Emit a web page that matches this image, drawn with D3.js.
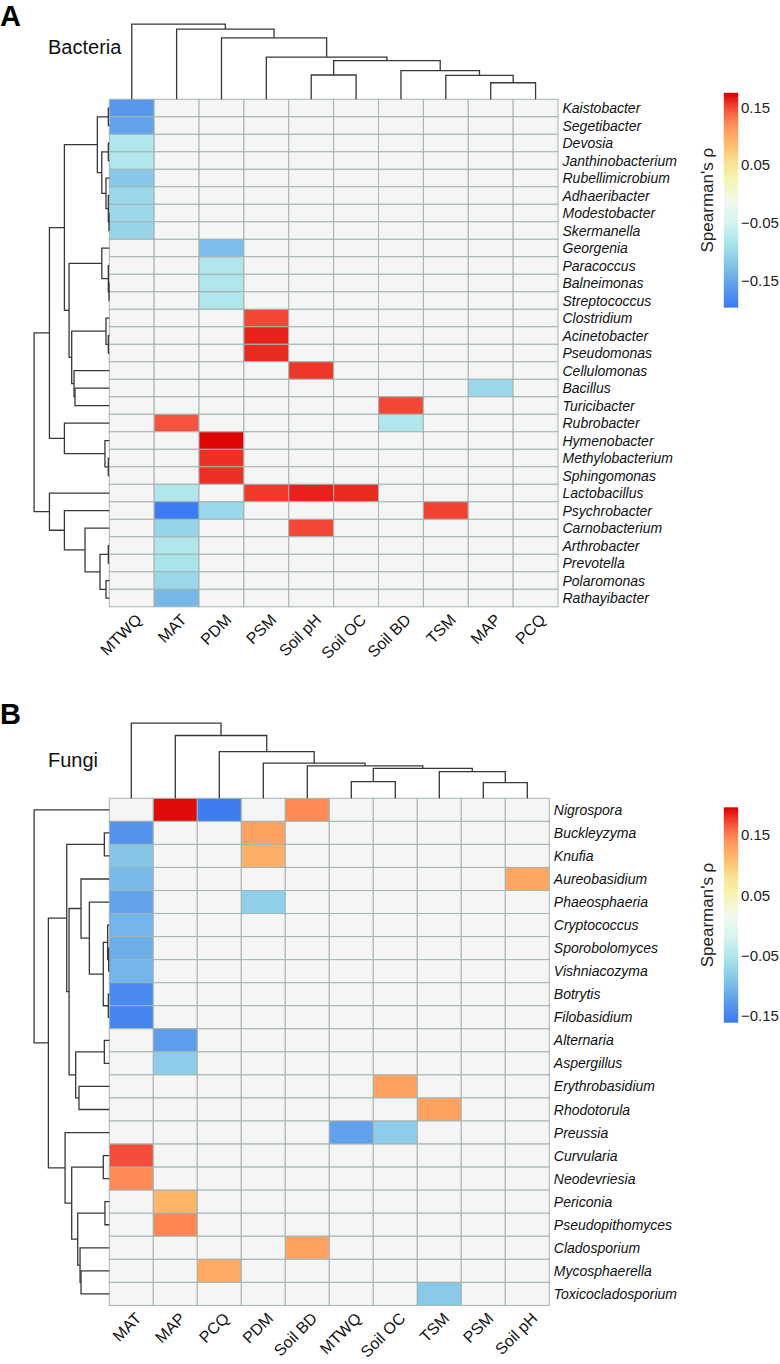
<!DOCTYPE html>
<html><head><meta charset="utf-8">
<script src="https://cdn.jsdelivr.net/npm/d3@7"></script>
<style>
body{margin:0;background:#fff}
svg{display:block}
text{font-family:"Liberation Sans",Arial,Helvetica,sans-serif}
</style>
</head><body>
<svg id="chart" width="780" height="1364"></svg>
<script>
// ---------------- DATA ----------------
const legendTicks = [0.15, 0.05, -0.05, -0.15];

// Panel A – Bacteria
const bactCols = ["MTWQ","MAT","PDM","PSM","Soil pH","Soil OC","Soil BD","TSM","MAP","PCQ"];
const bactRows = ["Kaistobacter","Segetibacter","Devosia","Janthinobacterium","Rubellimicrobium",
  "Adhaeribacter","Modestobacter","Skermanella","Georgenia","Paracoccus","Balneimonas",
  "Streptococcus","Clostridium","Acinetobacter","Pseudomonas","Cellulomonas","Bacillus",
  "Turicibacter","Rubrobacter","Hymenobacter","Methylobacterium","Sphingomonas","Lactobacillus",
  "Psychrobacter","Carnobacterium","Arthrobacter","Prevotella","Polaromonas","Rathayibacter"];
// significant correlations [row, column, Spearman's rho]; other cells are not significant
const bactValues = [
  ["Kaistobacter","MTWQ",-0.165],["Segetibacter","MTWQ",-0.155],["Devosia","MTWQ",-0.08],
  ["Janthinobacterium","MTWQ",-0.08],["Rubellimicrobium","MTWQ",-0.12],["Adhaeribacter","MTWQ",-0.10],
  ["Modestobacter","MTWQ",-0.10],["Skermanella","MTWQ",-0.105],
  ["Georgenia","PDM",-0.13],["Paracoccus","PDM",-0.08],["Balneimonas","PDM",-0.08],["Streptococcus","PDM",-0.08],
  ["Clostridium","PSM",0.15],["Acinetobacter","PSM",0.163],["Pseudomonas","PSM",0.16],
  ["Cellulomonas","Soil pH",0.156],["Bacillus","MAP",-0.10],["Turicibacter","Soil BD",0.15],
  ["Rubrobacter","MAT",0.145],["Rubrobacter","Soil BD",-0.08],
  ["Hymenobacter","PDM",0.173],["Methylobacterium","PDM",0.158],["Sphingomonas","PDM",0.158],
  ["Lactobacillus","MAT",-0.08],["Lactobacillus","PSM",0.155],["Lactobacillus","Soil pH",0.163],["Lactobacillus","Soil OC",0.16],
  ["Psychrobacter","MAT",-0.195],["Psychrobacter","PDM",-0.10],["Psychrobacter","TSM",0.152],
  ["Carnobacterium","MAT",-0.105],["Carnobacterium","Soil pH",0.15],
  ["Arthrobacter","MAT",-0.08],["Prevotella","MAT",-0.085],["Polaromonas","MAT",-0.10],["Rathayibacter","MAT",-0.135]
];
// hclust-style merges: [a, b, height]; negative = leaf (1-based, display order), positive = earlier merge
const bactColMerge = [[-9,-10,0.220],[-8,1,0.319],[-7,2,0.380],[-5,-6,0.323],[4,3,0.513],
  [-4,5,0.562],[-3,6,0.818],[-2,7,0.934],[-1,8,1.0]];
const bactRowMerge = [[-1,-2,0.013],[-3,-4,0.013],[-7,-8,0.004],[-6,3,0.013],[-5,4,0.044],
  [2,5,0.10],[1,6,0.159],[-11,-12,0.004],[-10,8,0.013],[-9,9,0.10],[-14,-15,0.013],[-13,11,0.044],
  [-17,-18,0.456],[-16,13,0.469],[12,14,0.50],[10,15,0.535],[7,16,0.597],[-21,-22,0.013],
  [-20,18,0.058],[-19,19,0.597],[17,20,0.796],[-26,-27,0.013],[-28,-29,0.044],[22,23,0.124],
  [-25,24,0.323],[-24,25,0.597],[-23,26,0.796],[21,27,1.0]];
const bactRange = [-0.197, 0.175];

// Panel B – Fungi
const fungCols = ["MAT","MAP","PCQ","PDM","Soil BD","MTWQ","Soil OC","TSM","PSM","Soil pH"];
const fungRows = ["Nigrospora","Buckleyzyma","Knufia","Aureobasidium","Phaeosphaeria","Cryptococcus",
  "Sporobolomyces","Vishniacozyma","Botrytis","Filobasidium","Alternaria","Aspergillus",
  "Erythrobasidium","Rhodotorula","Preussia","Curvularia","Neodevriesia","Periconia",
  "Pseudopithomyces","Cladosporium","Mycosphaerella","Toxicocladosporium"];
const fungValues = [
  ["Nigrospora","MAP",0.192],["Nigrospora","PCQ",-0.158],["Nigrospora","Soil BD",0.145],
  ["Buckleyzyma","MAT",-0.135],["Buckleyzyma","PDM",0.13],
  ["Knufia","MAT",-0.09],["Knufia","PDM",0.12],
  ["Aureobasidium","MAT",-0.10],["Aureobasidium","Soil pH",0.127],
  ["Phaeosphaeria","MAT",-0.12],["Phaeosphaeria","PDM",-0.078],
  ["Cryptococcus","MAT",-0.105],["Sporobolomyces","MAT",-0.11],["Vishniacozyma","MAT",-0.105],
  ["Botrytis","MAT",-0.145],["Filobasidium","MAT",-0.15],
  ["Alternaria","MAP",-0.125],["Aspergillus","MAP",-0.08],
  ["Erythrobasidium","Soil OC",0.13],["Rhodotorula","TSM",0.13],
  ["Preussia","MTWQ",-0.122],["Preussia","Soil OC",-0.08],
  ["Curvularia","MAT",0.17],["Neodevriesia","MAT",0.145],
  ["Periconia","MAP",0.115],["Pseudopithomyces","MAP",0.148],
  ["Cladosporium","Soil BD",0.13],["Mycosphaerella","PCQ",0.125],["Toxicocladosporium","TSM",-0.085]
];
const fungColMerge = [[-9,-10,0.208],[-8,1,0.355],[-6,-7,0.221],[3,2,0.397],[-5,4,0.431],
  [-4,5,0.467],[-3,6,0.621],[-2,7,0.835],[-1,8,1.0]];
const fungRowMerge = [[-2,-3,0.066],[-7,-8,0.009],[-6,2,0.022],[-9,-10,0.013],[3,4,0.080],
  [-5,5,0.265],[-4,6,0.376],[-11,-12,0.066],[-13,-14,0.403],[8,9,0.447],[7,10,0.535],
  [1,11,0.566],[-16,-17,0.080],[-18,-19,0.058],[-21,-22,0.376],[-20,15,0.389],[14,16,0.420],
  [13,17,0.50],[-15,18,0.588],[12,19,0.810],[-1,20,1.0]];
const fungRange = [-0.161, 0.196];

// ---------------- STYLE ----------------
const paletteStops = [0,0.10,0.20,0.30,0.40,0.50,0.60,0.68,0.76,0.82,0.87,0.93,1.0];
const paletteColors = ["#3A7AF2","#5C9DEC","#84C5E8","#AAE4EB","#D8F4F2","#F3F9EC","#F7F4B0",
  "#F9E08E","#FDBC6C","#FFA060","#FF8252","#F54A38","#DC0000"];
const palette = d3.scaleLinear().domain(paletteStops).range(paletteColors).interpolate(d3.interpolateRgb);
const naColor = "#F5F5F5", borderColor = "#A3B3B2", treeColor = "#383838";

const svg = d3.select("#chart");
svg.append("rect").attr("width",780).attr("height",1364).attr("fill","#fff");

function drawPanel(o){
  const g = svg.append("g");
  const x = d3.scaleBand().domain(o.cols).range([o.x0, o.x0 + o.cellW*o.cols.length]);
  const y = d3.scaleBand().domain(o.rows).range([o.y0, o.y0 + o.cellH*o.rows.length]);
  const tScale = d3.scaleLinear().domain(o.range).range([0,1]);
  const color = v => palette(tScale(v));
  const lookup = new Map(o.values.map(d => [d[0]+"|"+d[1], d[2]]));
  const cells = [];
  o.rows.forEach(r => o.cols.forEach(c => cells.push({r, c, v: lookup.get(r+"|"+c)})));
  g.append("g").selectAll("rect").data(cells).join("rect")
    .attr("x", d => x(d.c)).attr("y", d => y(d.r))
    .attr("width", x.bandwidth()).attr("height", y.bandwidth())
    .attr("fill", d => d.v === undefined ? naColor : color(d.v))
    .attr("stroke", borderColor).attr("stroke-width", 1);

  // row labels
  g.append("g").selectAll("text").data(o.rows).join("text")
    .attr("x", x.range()[1] + 4.5).attr("y", d => y(d) + y.bandwidth()/2)
    .attr("dy","0.36em").attr("font-size", 14).attr("font-style","italic").attr("fill","#111")
    .text(d => d);

  // column labels
  const yb = y.range()[1];
  g.append("g").selectAll("text").data(o.cols).join("text")
    .attr("transform", d => `translate(${x(d)+x.bandwidth()/2 + o.labDx},${yb + o.labDy}) rotate(-45)`)
    .attr("text-anchor","end").attr("font-size",16).attr("fill","#111").text(d => d);

  // dendrograms
  function layout(merge, leafPos){
    const pos = [], hts = [];
    const p = i => i < 0 ? leafPos(-i-1) : pos[i-1];
    const h = i => i < 0 ? 0 : hts[i-1];
    const segs = [];
    merge.forEach((m, k) => {
      pos[k] = (p(m[0]) + p(m[1]))/2; hts[k] = m[2];
      segs.push({pa:p(m[0]), ha:h(m[0]), pb:p(m[1]), hb:h(m[1]), h:m[2]});
    });
    return segs;
  }
  const colH = d3.scaleLinear().domain([0,1]).range([o.y0, o.y0 - 75.2]);
  const colSegs = layout(o.colMerge, i => x(o.cols[i]) + x.bandwidth()/2);
  g.append("g").selectAll("path").data(colSegs).join("path")
    .attr("d", s => `M${s.pa},${colH(s.ha)}V${colH(s.h)}H${s.pb}V${colH(s.hb)}`)
    .attr("fill","none").attr("stroke",treeColor).attr("stroke-width",1.3);
  const rowH = d3.scaleLinear().domain([0,1]).range([o.x0, o.x0 - 75.2]);
  const rowSegs = layout(o.rowMerge, i => y(o.rows[i]) + y.bandwidth()/2);
  g.append("g").selectAll("path").data(rowSegs).join("path")
    .attr("d", s => `M${rowH(s.ha)},${s.pa}H${rowH(s.h)}V${s.pb}H${rowH(s.hb)}`)
    .attr("fill","none").attr("stroke",treeColor).attr("stroke-width",1.3);

  // legend
  const ly = d3.scaleLinear().domain(o.range).range([o.legBottom, o.legTop]);
  const gid = "grad" + o.id;
  const grad = svg.append("defs").append("linearGradient").attr("id", gid)
    .attr("x1",0).attr("y1",1).attr("x2",0).attr("y2",0);
  d3.range(0, 1.0001, 0.02).forEach(t => grad.append("stop").attr("offset", t).attr("stop-color", palette(t)));
  g.append("rect").attr("x", 723.8).attr("y", o.legTop).attr("width", 14.4)
    .attr("height", o.legBottom - o.legTop).attr("fill", `url(#${gid})`);
  const fmt = d3.format(".2f");
  g.append("g").selectAll("text").data(legendTicks).join("text")
    .attr("x", 741).attr("y", d => ly(d)).attr("dy","0.36em")
    .attr("font-size",15).attr("fill","#222").text(d => fmt(d));
  g.append("text").attr("transform", `translate(713,${(o.legTop+o.legBottom)/2}) rotate(-90)`)
    .attr("text-anchor","middle").attr("font-size",17).attr("fill","#222")
    .text("Spearman's ρ");

  // titles
  g.append("text").attr("x",0).attr("y",o.letterY).attr("font-size",29).attr("font-weight","bold")
    .attr("fill","#000").text(o.letter);
  g.append("text").attr("x",48).attr("y",o.titleY).attr("font-size",20).attr("fill","#111").text(o.title);
}

drawPanel({id:"A", cols:bactCols, rows:bactRows, values:bactValues, colMerge:bactColMerge,
  rowMerge:bactRowMerge, range:bactRange, x0:109.3, y0:99.3, cellW:44.87, cellH:17.5,
  labDx:11, labDy:14, legTop:92.8, legBottom:307.6, letter:"A", letterY:26, title:"Bacteria", titleY:54});
drawPanel({id:"B", cols:fungCols, rows:fungRows, values:fungValues, colMerge:fungColMerge,
  rowMerge:fungRowMerge, range:fungRange, x0:109.3, y0:798.3, cellW:44, cellH:23.05,
  labDx:11, labDy:14, legTop:807.3, legBottom:1022.7, letter:"B", letterY:724, title:"Fungi", titleY:767});
</script>
</body></html>
